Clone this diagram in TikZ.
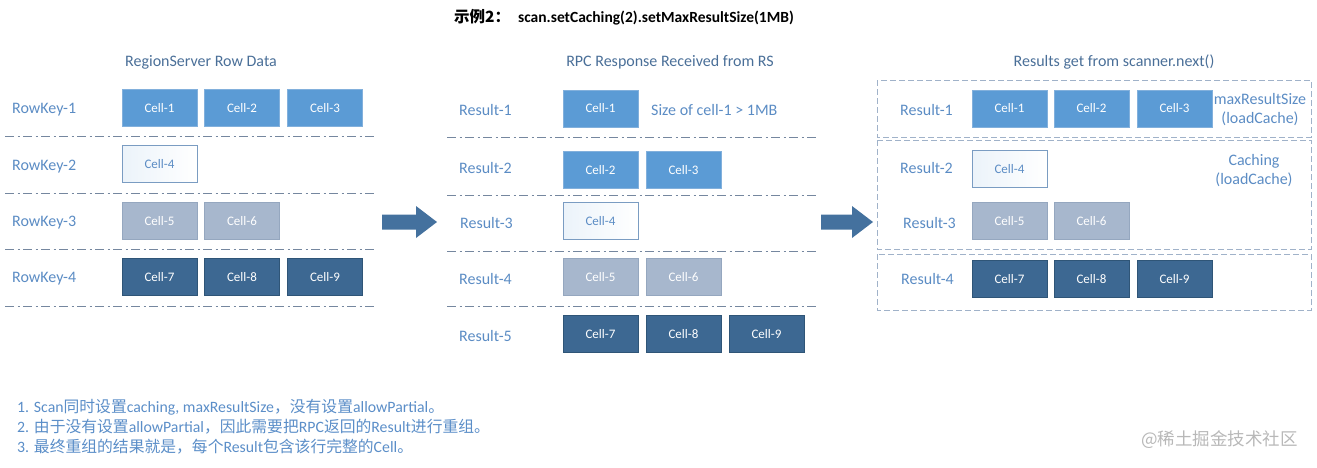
\documentclass[tikz,border=0pt]{standalone}
\usepackage{fontspec}
\setmainfont{Carlito}
\newfontfamily\cjk{Noto Sans CJK SC}
\newcommand{\zh}[1]{{\cjk #1}}
\definecolor{lblue}{HTML}{5B8CC4}
\definecolor{tblue}{HTML}{4A6F98}
\definecolor{cA}{HTML}{5B9BD5}
\definecolor{cAd}{HTML}{82B0DC}
\definecolor{cWd}{HTML}{7A9CC2}
\definecolor{cG}{HTML}{A7B7CD}
\definecolor{cGd}{HTML}{95A7BF}
\definecolor{cD}{HTML}{3D6892}
\definecolor{cDd}{HTML}{2F5577}
\definecolor{sepc}{HTML}{75879F}
\definecolor{boxc}{HTML}{A0B2C9}
\definecolor{arrc}{HTML}{44719E}
\definecolor{notec}{HTML}{5B8EC8}
\tikzset{
  cellbase/.style={rectangle, minimum width=75pt, minimum height=37pt, inner sep=0pt, font=\fontsize{13}{15}\selectfont, line width=0.8pt},
  cellA/.style={cellbase, fill=cA, draw=cAd, text=white},
  cellW/.style={cellbase, left color=white!88!cA, right color=white, draw=cWd, text=lblue},
  cellG/.style={cellbase, fill=cG, draw=cGd, text=white},
  cellD/.style={cellbase, fill=cD, draw=cDd, text=white},
  rowlab/.style={anchor=west, text=lblue, font=\fontsize{16}{18}\selectfont, inner sep=0pt, yshift=-2pt},
  paneltitle/.style={text=tblue, font=\fontsize{16}{18}\selectfont, inner sep=0pt, yshift=-1pt},
  sepline/.style={draw=sepc, line width=1pt, dash pattern=on 9pt off 3.5pt on 2pt off 3.5pt},
  groupbox/.style={draw=boxc, line width=1pt, dash pattern=on 6pt off 3pt},
  bigarrow/.style={fill=arrc, draw=none},
  note/.style={anchor=west, text=notec, font=\fontsize{15.8}{17}\selectfont, inner sep=0pt},
}
\begin{document}
\begin{tikzpicture}[x=1pt,y=-1pt]
\useasboundingbox (0,0) rectangle (1317,467);
% main title
\node[font=\bfseries\fontsize{15.5}{17}\selectfont, inner sep=0pt] (title) at (624,17) {\zh{\bfseries 示例2：}\hspace{8pt}scan.setCaching(2).setMaxResultSize(1MB)};

% ---------- left panel ----------
\node[paneltitle] (lt) at (201,61) {RegionServer Row Data};
\node[rowlab] (rk1) at (12,108) {RowKey-1};
\node[rowlab] (rk2) at (12,165) {RowKey-2};
\node[rowlab] (rk3) at (12,221) {RowKey-3};
\node[rowlab] (rk4) at (12,277) {RowKey-4};
\node[cellA] (l1) at (159.5,108) {Cell-1};
\node[cellA] (l2) at (242,108) {Cell-2};
\node[cellA] (l3) at (325,108) {Cell-3};
\node[cellW] (l4) at (159.5,164) {Cell-4};
\node[cellG] (l5) at (159.5,221) {Cell-5};
\node[cellG] (l6) at (242,221) {Cell-6};
\node[cellD] (l7) at (159.5,277) {Cell-7};
\node[cellD] (l8) at (242,277) {Cell-8};
\node[cellD] (l9) at (325,277) {Cell-9};
\coordinate (ls1a) at (5,136); \coordinate (ls1b) at (377,136);
\coordinate (ls2a) at (5,193); \coordinate (ls2b) at (377,193);
\coordinate (ls3a) at (5,249); \coordinate (ls3b) at (377,249);
\coordinate (ls4a) at (5,306); \coordinate (ls4b) at (377,306);
\draw[sepline] (ls1a) -- (ls1b);
\draw[sepline] (ls2a) -- (ls2b);
\draw[sepline] (ls3a) -- (ls3b);
\draw[sepline] (ls4a) -- (ls4b);

\fill[bigarrow] (382,214.5) -- (416,214.5) -- (416,206) -- (437,222) -- (416,238) -- (416,229.5) -- (382,229.5) -- cycle;

% ---------- middle panel ----------
\node[paneltitle] (mt) at (670,61) {RPC Response Received from RS};
\node[rowlab] (r1) at (459,108) {Result-1};
\node[rowlab] (r2) at (459,166) {Result-2};
\node[rowlab] (r3) at (460,221) {Result-3};
\node[rowlab] (r4) at (459,277) {Result-4};
\node[rowlab] (r5) at (459,334) {Result-5};
\node[cellA] (m1) at (600.5,108.5) {Cell-1};
\node[rowlab] (sz) at (651,108) {Size of cell-1 > 1MB};
\node[cellA] (m2) at (600.5,170) {Cell-2};
\node[cellA] (m3) at (683.5,170) {Cell-3};
\node[cellW] (m4) at (600.5,221) {Cell-4};
\node[cellG] (m5) at (600.5,277) {Cell-5};
\node[cellG] (m6) at (683.5,277) {Cell-6};
\node[cellD] (m7) at (600.5,334) {Cell-7};
\node[cellD] (m8) at (683.5,334) {Cell-8};
\node[cellD] (m9) at (766.5,334) {Cell-9};
\coordinate (ms1a) at (447,137); \coordinate (ms1b) at (818,137);
\coordinate (ms2a) at (447,195); \coordinate (ms2b) at (818,195);
\coordinate (ms3a) at (447,251); \coordinate (ms3b) at (818,251);
\coordinate (ms4a) at (447,306); \coordinate (ms4b) at (818,306);
\draw[sepline] (ms1a) -- (ms1b);
\draw[sepline] (ms2a) -- (ms2b);
\draw[sepline] (ms3a) -- (ms3b);
\draw[sepline] (ms4a) -- (ms4b);

\fill[bigarrow] (821,214.5) -- (852,214.5) -- (852,206) -- (873,222) -- (852,238) -- (852,229.5) -- (821,229.5) -- cycle;

% ---------- right panel ----------
\node[paneltitle] (rt) at (1114,61) {Results get from scanner.next()};
\draw[groupbox] (877,80) rectangle (1311,137);
\draw[groupbox] (877,140) rectangle (1311,249);
\draw[groupbox] (877,254) rectangle (1311,310);
\node[rowlab] (q1) at (900,108) {Result-1};
\node[rowlab] (q2) at (900,166) {Result-2};
\node[rowlab] (q3) at (903,221) {Result-3};
\node[rowlab] (q4) at (901,277) {Result-4};
\node[cellA] (n1) at (1009.5,108.5) {Cell-1};
\node[cellA] (n2) at (1091.5,108.5) {Cell-2};
\node[cellA] (n3) at (1174.5,108.5) {Cell-3};
\node[cellW] (n4) at (1009.5,169) {Cell-4};
\node[cellG] (n5) at (1009.5,221) {Cell-5};
\node[cellG] (n6) at (1091.5,221) {Cell-6};
\node[cellD] (n7) at (1009.5,279) {Cell-7};
\node[cellD] (n8) at (1091.5,279) {Cell-8};
\node[cellD] (n9) at (1174.5,279) {Cell-9};
\node[text=lblue, font=\fontsize{16}{19}\selectfont, align=center, inner sep=0pt] (mrs) at (1260,109.5) {maxResultSize\\(loadCache)};
\node[text=lblue, font=\fontsize{16}{19}\selectfont, align=center, inner sep=0pt] (cach) at (1254,170.5) {Caching\\(loadCache)};

% ---------- notes ----------
\node[note] (t1) at (17,407) {1. Scan\zh{同时设置}caching, maxResultSize\zh{，没有设置}allowPartial\zh{。}};
\node[note] (t2) at (17,427) {2. \zh{由于没有设置}allowPartial\zh{，因此需要把}RPC\zh{返回的}Result\zh{进行重组。}};
\node[note] (t3) at (17,447) {3. \zh{最终重组的结果就是，每个}Result\zh{包含该行完整的}Cell\zh{。}};

\node[text=black!28, font=\cjk\fontsize{17.5}{19}\selectfont, inner sep=0pt, anchor=west] (wm) at (1141,440) {@稀土掘金技术社区};
\end{tikzpicture}
\end{document}
